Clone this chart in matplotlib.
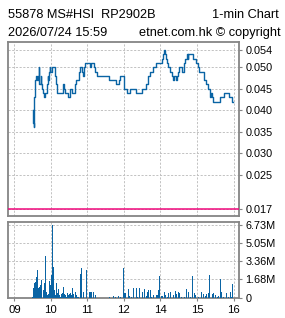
import matplotlib
matplotlib.use("Agg")
import matplotlib.pyplot as plt
import numpy as np

# ---- data (x = trading minutes from 09:00, lunch break removed) ----
price_t = [30, 31, 32, 33, 34, 36, 37, 38, 40, 41, 43, 44, 46, 47, 48, 50, 53, 55, 56, 57,
           58, 59, 61, 67, 69, 70, 80, 81, 83, 88, 91, 94, 99, 101, 106, 108, 111, 112, 114, 116,
           124, 126, 131, 133, 136, 155, 167, 172, 174, 180, 185, 190, 200, 209, 216, 219, 220, 223, 228, 233,
           242, 244, 246, 248, 249, 251, 253, 256, 259, 261, 263, 265, 267, 269, 271, 276, 279, 281, 283, 285,
           286, 293, 298, 301, 303, 311, 312, 314, 318, 322, 323, 324, 326, 338, 345, 353, 357, 359]
price_v = [0.040, 0.037, 0.036, 0.043, 0.047, 0.048, 0.047, 0.048, 0.050, 0.046, 0.048, 0.046, 0.045, 0.044, 0.043, 0.044, 0.046, 0.048, 0.047, 0.049,
           0.050, 0.049, 0.050, 0.048, 0.046, 0.044, 0.046, 0.045, 0.044, 0.043, 0.045, 0.044, 0.046, 0.047, 0.049, 0.050, 0.049, 0.048, 0.050, 0.051,
           0.050, 0.051, 0.050, 0.049, 0.048, 0.047, 0.046, 0.047, 0.048, 0.045, 0.044, 0.045, 0.044, 0.045, 0.046, 0.047, 0.048, 0.049, 0.050, 0.051,
           0.052, 0.053, 0.054, 0.053, 0.052, 0.051, 0.050, 0.049, 0.048, 0.047, 0.048, 0.047, 0.048, 0.049, 0.050, 0.049, 0.051, 0.052, 0.053, 0.052,
           0.053, 0.052, 0.051, 0.050, 0.049, 0.048, 0.047, 0.046, 0.045, 0.043, 0.044, 0.043, 0.042, 0.043, 0.044, 0.043, 0.042, 0.042]

vol_t = [30, 32, 33, 35, 37, 38, 40, 42, 43, 45, 47, 48, 50, 51, 53, 55, 56, 58, 60, 61,
         63, 65, 66, 68, 69, 71, 73, 74, 76, 78, 79, 81, 83, 84, 86, 88, 89, 91, 92, 94,
         96, 97, 100, 102, 104, 106, 108, 109, 111, 113, 114, 116, 118, 119, 121, 123, 125, 127, 130, 134,
         144, 156, 163, 166, 171, 174, 180, 181, 183, 185, 187, 189, 192, 195, 200, 203, 206, 208, 211, 214,
         217, 219, 221, 223, 226, 229, 231, 233, 235, 237, 239, 241, 243, 246, 248, 251, 253, 256, 259, 262,
         264, 267, 270, 271, 274, 277, 280, 282, 283, 286, 289, 292, 293, 296, 297, 300, 303, 305, 308, 311,
         314, 316, 319, 321, 323, 325, 327, 330, 333, 335, 338, 341, 344, 346, 349, 352, 355, 357, 359]
vol_m = [0.09, 0.86, 1.33, 1.48, 1.94, 2.56, 0.86, 1.02, 1.17, 1.64, 5.80, 0.71, 1.33, 3.89, 0.56, 0.25, 0.31, 1.54, 1.17, 2.10,
         6.73, 2.87, 0.71, 0.25, 1.33, 0.40, 0.80, 0.25, 0.09, 0.31, 0.40, 1.02, 0.31, 0.25, 0.09, 0.40, 0.25, 0.31, 0.40, 0.25,
         0.86, 0.31, 0.56, 0.25, 0.09, 0.09, 0.86, 2.16, 2.78, 0.31, 0.56, 1.94, 0.71, 2.56, 0.25, 0.49, 0.49, 0.49, 0.49, 0.25,
         0.12, 0.09, 0.12, 0.09, 0.15, 0.09, 2.78, 0.43, 0.43, 0.49, 0.80, 0.19, 0.09, 0.93, 0.86, 0.09, 0.93, 0.49, 0.56, 0.80,
         0.12, 0.56, 0.71, 0.71, 0.09, 0.25, 0.62, 0.25, 0.25, 0.71, 2.01, 0.19, 0.19, 0.49, 0.25, 0.09, 0.40, 0.49, 0.25, 0.25,
         0.62, 0.31, 0.56, 0.40, 0.09, 0.15, 0.09, 0.80, 0.80, 0.56, 0.09, 0.71, 2.01, 0.40, 0.25, 0.09, 0.09, 0.15, 0.49, 0.31,
         0.19, 0.34, 0.40, 2.10, 0.31, 0.31, 0.40, 0.25, 0.09, 0.19, 1.73, 0.49, 0.09, 1.33, 0.40, 0.09, 0.56, 0.09, 1.24]

ref_level = 0.017
hour_ticks = [0, 60, 120, 180, 240, 300, 360]
hour_labels = ["09", "10", "11", "12", "14", "15", "16"]
price_ticks = [0.054, 0.050, 0.045, 0.040, 0.035, 0.030, 0.025, 0.017]
price_labels = ["0.054", "0.050", "0.045", "0.040", "0.035", "0.030", "0.025", "0.017"]
vol_ticks = [0, 1.6825, 3.365, 5.0475, 6.73]
vol_labels = ["0", "1.68M", "3.36M", "5.05M", "6.73M"]

title_left = "55878 MS#HSI  RP2902B"
title_right = "1-min Chart"
sub_left = "2026/07/24 15:59"
sub_right = "etnet.com.hk \u00a9 copyright"

# ---- style ----
plt.rcParams['font.family'] = ['Liberation Sans', 'DejaVu Sans']
BLUE = "#0a64a4"
PINK = "#f0087c"
SPINE = "#858585"
GRID = "#c2c2c2"

W, H = 285, 318
fig = plt.figure(figsize=(W / 100, H / 100), dpi=100)
fig.patch.set_facecolor("white")

def frac(l, t, r, b):
    return [l / W, 1 - b / H, (r - l) / W, (b - t) / H]

ax = fig.add_axes(frac(8.3, 42, 239.3, 216))
axv = fig.add_axes(frac(8.3, 222, 239.3, 298))

xlim = (-10, 369.5)

for a in (ax, axv):
    a.set_xlim(*xlim)
    for s in a.spines.values():
        s.set_color(SPINE)
        s.set_linewidth(1.3)
    a.yaxis.tick_right()
    a.tick_params(axis='y', direction='out', length=2.5, width=0.8, color=SPINE,
                  pad=2, labelsize=7.8, labelcolor="black")
    a.set_xticks(hour_ticks)
    a.grid(True, which='major', color=GRID, linestyle=(0, (2.2, 1.6)), linewidth=0.7)
    a.set_axisbelow(True)

# price panel
ax.set_ylim(0.01542, 0.05588)
ax.set_yticks(price_ticks)
ax.set_yticklabels(price_labels)
ax.tick_params(axis='x', length=0, labelbottom=False)
ax.axhline(ref_level, color=PINK, linewidth=1.1, zorder=3)
ax.plot(price_t, price_v, drawstyle='steps-post', color=BLUE, linewidth=1.0, zorder=4)

# volume panel
axv.set_ylim(-0.03, 7.0)
axv.set_yticks(vol_ticks)
axv.set_yticklabels(vol_labels)
axv.bar(vol_t, vol_m, width=1.5, color=BLUE, linewidth=0, zorder=3)
axv.set_xticklabels(hour_labels)
axv.tick_params(axis='x', direction='out', length=2.5, width=0.8, color=SPINE,
                pad=2.5, labelsize=8.2, labelcolor="black")

# header text
fig.text(8.3 / W, 1 - 18.3 / H, title_left, fontsize=9.2, ha='left', va='baseline')
fig.text(278.5 / W, 1 - 18.3 / H, title_right, fontsize=9.2, ha='right', va='baseline')
fig.text(8.3 / W, 1 - 36 / H, sub_left, fontsize=9.2, ha='left', va='baseline')
fig.text(280.5 / W, 1 - 36 / H, sub_right, fontsize=9.2, ha='right', va='baseline')

fig.savefig("out.png", dpi=100, facecolor="white")
